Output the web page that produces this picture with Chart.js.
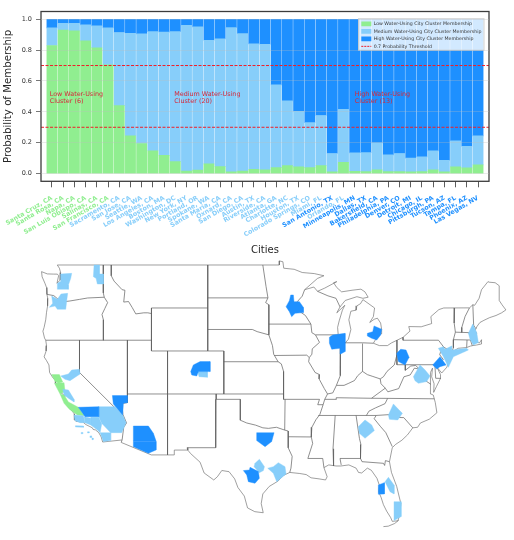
<!DOCTYPE html>
<html>
<head>
<meta charset="utf-8">
<title>Cities</title>
<script src="https://cdn.jsdelivr.net/npm/chart.js@4/dist/chart.umd.min.js"></script>
<style>
html,body{margin:0;padding:0;background:#fff}
#barBox{position:absolute;left:0;top:0;width:514px;height:258px}
#mapBox{position:absolute;left:20px;top:258px;width:494px;height:280px}
canvas{filter:blur(.3px)}
</style>
</head>
<body>
<div id="barBox"><canvas id="barChart"></canvas></div>
<div id="mapBox"><canvas id="mapChart"></canvas></div>
<script>
const LOW_COLOR="#90EE90"
const MEDIUM_COLOR="#87CEFA"
const HIGH_COLOR="#1E90FF"

const cities=["Santa Cruz, CA","Santa Rosa, CA","Napa, CA","San Luis Obispo, CA","Salinas, CA","San Francisco, CA","Sacramento, CA","San Jose, CA","Seattle, WA","Los Angeles, CA","Boston, MA","Washington, DC","New York, NY","Portland, OR","Spokane, WA","Santa Maria, CA","Oxnard, CA","San Diego, CA","Austin, TX","Riverside, CA","Atlanta, GA","Charlotte, NC","Houston, TX","Colorado Springs, CO","Miami, FL","San Antonio, TX","Orlando, FL","Minneapolis, MN","Dallas, TX","Bakersfield, CA","Philadelphia, PA","Denver, CO","Detroit, MI","Chicago, IL","Pittsburgh, PA","Tucson, AZ","Tampa, FL","Phoenix, AZ","Las Vegas, NV"]
const clusters=["low","low","low","low","low","low","medium","medium","medium","medium","medium","medium","medium","medium","medium","medium","medium","medium","medium","medium","medium","medium","medium","medium","medium","high","medium","high","high","high","high","high","high","high","high","high","high","high","high"]
const lowValues=[.83,.93,.925,.86,.815,.705,.44,.245,.195,.148,.118,.077,.016,.022,.063,.045,.012,.017,.028,.024,.039,.052,.043,.039,.052,.011,.073,.015,.013,.024,.013,.013,.011,.013,.024,.011,.043,.037,.056]
const mediumValues=[.114,.044,.049,.103,.142,.239,.474,.664,.71,.772,.798,.843,.945,.928,.801,.828,.934,.89,.812,.814,.536,.419,.361,.291,.324,.119,.344,.119,.123,.175,.108,.117,.089,.095,.123,.075,.169,.14,.188]
const highValues=[.056,.026,.026,.037,.043,.056,.086,.091,.095,.08,.084,.08,.039,.05,.136,.127,.054,.093,.16,.162,.425,.529,.596,.67,.624,.87,.583,.866,.864,.801,.879,.87,.9,.892,.853,.914,.788,.823,.756]
const thresholds=[.7,.3]
const clusterNotes=[
{x:-.2,y:.5,lines:["Low Water-Using","Cluster (6)"]},
{x:10.9,y:.5,lines:["Medium Water-Using","Cluster (20)"]},
{x:27,y:.5,lines:["High Water-Using","Cluster (13)"]}
]

// lon,lat rings
const lowAreas=[
[[-123.46,38.8],[-122.5,38.8],[-122.09,38.12],[-122.63,37.99],[-123.04,38.15]],
[[-123.12,37.99],[-121.92,38.05],[-121.8,37.22],[-122.42,37]],
[[-122.42,37],[-121.92,36.91],[-121.38,36.26],[-120.14,35.76],[-119.43,34.98],[-120.26,35.05],[-121.26,35.57],[-121.92,36.13]]
]
const mediumAreas=[
[[-122.75,46.74],[-122.75,47.29],[-122.42,47.45],[-122.34,48.16],[-120.97,48.22],[-121.09,47.76],[-121.38,47.14],[-121.38,46.74]],
[[-118.19,49],[-117.53,49],[-117.53,48.16],[-117.03,48.16],[-117.03,47.23],[-117.78,47.23],[-117.94,47.76],[-118.27,47.91]],
[[-123.75,45.06],[-123.33,45.43],[-123.46,46.12],[-122.75,45.81],[-122.3,46.3],[-121.47,46.36],[-121.59,45.68],[-121.71,44.88],[-122.75,44.88],[-123.04,45.19]],
[[-122.34,38.67],[-121.38,38.86],[-120.97,39.23],[-120.01,39.29],[-119.93,38.86],[-121.18,38.24],[-121.8,38.36]],
[[-122.09,37.43],[-121.38,37.37],[-120.68,36.5],[-120.68,36.26],[-121.38,36.6],[-121.92,36.91]],
[[-117.61,35.82],[-115.58,35.82],[-114.63,35.05],[-114.21,34.33],[-114.75,33.4],[-116.12,33.4],[-117.24,34.27],[-117.61,34.89]],
[[-120.68,35.05],[-119.52,34.98],[-119.31,34.33],[-119.93,34.33],[-120.55,34.52]],
[[-119.43,34.89],[-118.6,34.74],[-118.6,34.12],[-119.31,34.33]],
[[-118.6,34.83],[-117.61,34.83],[-117.24,34.21],[-117.44,33.4],[-117.78,33.65],[-118.6,34.12]],
[[-117.44,33.4],[-116.12,33.4],[-116.12,32.66],[-117.03,32.57]],
[[-120.5,34.05],[-119.5,34.02],[-119.5,33.9],[-120.5,33.93]],
[[-119.8,33.42],[-119.6,33.42],[-119.6,33.3],[-119.8,33.3]],
[[-119,33.48],[-118.8,33.48],[-118.8,33.38],[-119,33.38]],
[[-118.7,33.1],[-118.5,33.1],[-118.5,32.95],[-118.7,32.95]],
[[-118.45,32.9],[-118.3,32.9],[-118.3,32.75],[-118.45,32.75]],
[[-105.3,39.11],[-104.09,39.11],[-104.09,38.55],[-105.13,38.61]],
[[-98.17,30.55],[-97.63,30.92],[-97,30.24],[-97.13,29.87],[-97.63,29.68],[-98.29,30.24]],
[[-96.59,30.09],[-95.89,30.24],[-95.27,30.61],[-94.44,30.24],[-94.31,29.56],[-95.47,28.84],[-95.89,29.62]],
[[-85.32,33.96],[-84.49,34.58],[-83.66,34.12],[-83.33,33.59],[-84.49,32.88],[-85.19,33.34]],
[[-81.58,35.05],[-80.96,36.07],[-80.34,35.57],[-79.84,35.2],[-80.42,34.58],[-81.46,34.64]],
[[-82,28.84],[-81.58,29.25],[-80.88,28.53],[-80.88,27.7],[-81.38,27.91]],
[[-80.88,26.98],[-80,26.98],[-80,25.59],[-80.88,25.22]],
[[-78.47,38.61],[-77.65,39.7],[-77.02,39.23],[-76.4,38.67],[-76.82,38.15],[-77.85,37.99],[-78.27,38.24]],
[[-75.37,41.25],[-74.74,41.4],[-74.54,41.16],[-73.71,41.47],[-73.71,41.09],[-71.84,41.25],[-71.63,41.09],[-73.5,40.47],[-74.12,39.48],[-74.74,40.47]],
[[-71.63,42.64],[-71.09,43.51],[-70.6,42.71],[-70.39,41.78],[-71.01,41.56],[-71.43,42.09]]
]
const highAreas=[
[[-120.14,35.76],[-117.61,35.82],[-117.61,34.89],[-119.31,34.89]],
[[-115.91,36.85],[-114.05,36.85],[-114.05,36.19],[-114.54,36.13],[-114.63,35.05],[-115.79,36.07]],
[[-106.17,39.08],[-105.84,39.7],[-105,40.01],[-103.76,40.01],[-103.76,39.08],[-105.21,39.08],[-105.42,38.67],[-106.04,38.77]],
[[-113.3,34.02],[-111.43,34.02],[-110.81,33.34],[-110.48,32.62],[-113.3,32.62]],
[[-113.3,32.6],[-110.48,32.6],[-110.48,31.79],[-111.43,31.48],[-113.3,32.1]],
[[-99.62,29.87],[-98.87,29.93],[-98.79,30.18],[-97.75,29.78],[-97.63,29.16],[-98.17,28.69],[-99,28.84],[-99.2,29.47]],
[[-97.96,33.4],[-95.8,33.4],[-96.1,32.57],[-96.92,32.1],[-97.96,32.66]],
[[-82.83,28.53],[-82.08,28.75],[-82.08,27.7],[-82.83,27.67]],
[[-93.73,46.21],[-93.4,46.21],[-93.32,45.59],[-92.65,45.59],[-92.16,45.06],[-92.16,44.57],[-93.19,44.5],[-93.61,44.19],[-93.9,44.66],[-94.31,45.12],[-93.9,45.68]],
[[-88.92,42.27],[-88.51,42.49],[-86.97,42.64],[-86.97,40.94],[-87.51,40.72],[-87.6,41.25],[-88.63,41.16],[-88.92,41.71]],
[[-84.2,42.64],[-83.53,42.8],[-83.37,43.33],[-82.41,43.02],[-82.54,42.49],[-83.03,42.02],[-83.66,42.18],[-84.2,42.4]],
[[-80.55,40.78],[-80.05,41.16],[-79.39,41.09],[-79.01,40.41],[-79.51,39.7],[-80.34,40.01]],
[[-76.07,39.7],[-75.16,40.47],[-74.41,39.7],[-75.16,39.54],[-75.57,39.33]]
]

const coastLines=[
[[-122.76,49],[-122.5,48.7],[-122.35,48.3],[-122.4,47.6],[-122.8,47.3],[-122.6,48],[-122.75,48.15],[-123.2,48.15],[-124,48.17],[-124.72,48.38],[-124.65,47.9],[-124.3,47.3],[-124.1,46.9],[-124.05,46.27],[-123.95,45.9],[-123.97,45.2],[-124.1,44.6],[-124.2,43.9],[-124.4,43.2],[-124.55,42.84],[-124.35,42.2],[-124.2,42],[-124.1,41.5],[-124.15,41],[-124.4,40.45],[-124.1,40.1],[-123.8,39.7],[-123.72,39],[-123.3,38.5],[-122.95,38.25],[-123,38],[-122.6,37.85],[-122.5,37.5],[-122.4,37.15],[-122,36.95],[-121.8,36.8],[-121.95,36.55],[-121.85,36.3],[-121.3,35.7],[-120.85,35.35],[-120.65,35.15],[-120.63,34.6],[-120.45,34.45],[-119.6,34.4],[-119.2,34.15],[-118.8,34],[-118.4,33.85],[-118.3,33.7],[-118,33.65],[-117.6,33.4],[-117.3,33],[-117.12,32.53],[-114.72,32.72]],
[[-114.81,32.49],[-111.07,31.33],[-108.21,31.33],[-108.21,31.78],[-106.53,31.78],[-106.2,31.47],[-105,30.65],[-104.5,29.65],[-103.3,29],[-102.85,29.3],[-102.3,29.88],[-101.4,29.77],[-100.7,29.1],[-100.3,28.3],[-99.5,27.5],[-99.1,26.4],[-98.2,26.05],[-97.15,25.95],[-97.4,26.8],[-97.2,27.7],[-96.4,28.4],[-95.3,28.9],[-94.7,29.4],[-93.85,29.7],[-92.6,29.6],[-91.8,29.5],[-91.2,29.2],[-90.2,29.1],[-89.4,29],[-89.2,29.3],[-89.6,30.15],[-89,30.4],[-88.1,30.3],[-87.5,30.3],[-86.5,30.4],[-85.6,30.1],[-85.3,29.7],[-84.9,29.65],[-84.2,30.1],[-83.7,29.9],[-83,29.15],[-82.7,28.5],[-82.8,27.9],[-82.5,27.4],[-82.2,26.7],[-81.8,26.1],[-81.3,25.5],[-81.1,25.15],[-80.4,25.2],[-80.15,25.8],[-80.03,26.8],[-80.55,28.4],[-81.2,29.7],[-81.45,30.7],[-81.1,32],[-80.7,32.3],[-79.9,32.7],[-79.2,33.2],[-78.55,33.85],[-77.95,33.9],[-77.6,34.3],[-76.5,34.65],[-75.55,35.25],[-75.75,36.2],[-76,36.9],[-76.3,37],[-76.3,37.9],[-76.4,39],[-76.1,39.4],[-76.2,38.6],[-75.9,37.95],[-75.95,37.15],[-75.6,37.7],[-75.1,38.45],[-75.1,38.8],[-75.55,39.5],[-74.95,38.95],[-74.3,39.5],[-74,40.45],[-74.2,40.6],[-74,40.7],[-72,41.05],[-73.7,40.9],[-72.9,41.25],[-71.85,41.32],[-71.4,41.45],[-71.1,41.5],[-70.65,41.55],[-70,41.65],[-70,42.05],[-70.25,41.75],[-70.55,41.8],[-70.7,42.2],[-70.95,42.4],[-70.6,42.65],[-70.8,42.9],[-70.55,43.3],[-70.2,43.65],[-69.7,43.85],[-69,44.1],[-68.2,44.3],[-67.5,44.55],[-66.97,44.82],[-67.45,45.3],[-67.8,45.7],[-67.8,47.07],[-68.3,47.35],[-69.05,47.4],[-69.2,47.45],[-70,46.7],[-70.3,45.9],[-70.85,45.25],[-71.08,45.3],[-71.5,45.01],[-74.7,45],[-75.3,44.85],[-76.3,44.2],[-76.2,43.55],[-77.5,43.25],[-79.05,43.27],[-78.9,42.85],[-79.76,42.27],[-81.2,41.75],[-81.7,41.5],[-82.7,41.5],[-83.45,41.72],[-83.15,42.1],[-82.5,42.6],[-82.42,43],[-82.55,43.6],[-82.95,44.05],[-83.35,43.95],[-83.9,43.65],[-83.45,44.2],[-83.3,45],[-84.75,45.78],[-85.05,45.4],[-85.5,45.2],[-85.6,44.8],[-86.25,44.7],[-86.5,43.9],[-86.25,43],[-86.55,42.1],[-87,41.7],[-87.5,41.65],[-87.8,42.3],[-87.9,43.2],[-87.7,43.8],[-87.3,44.8],[-87,45.25],[-88,44.55],[-87.6,45.1],[-86.95,45.7],[-85.5,46.05],[-84.75,45.9],[-84.1,46],[-84.5,46.5],[-85,46.75],[-86.1,46.65],[-87.4,46.5],[-88,46.9],[-88.4,47.35],[-88,47.45],[-89.5,46.85],[-90.4,46.55],[-90.85,46.95],[-92,46.7],[-90.4,47.75],[-89.6,48],[-90.8,48.2],[-92.3,48.3],[-93.3,48.6],[-94.6,48.7],[-94.7,49.3],[-95.15,49.38],[-95.15,49],[-122.76,49]],
[[-82.2,24.66],[-81.6,24.7],[-80.8,24.95],[-80.3,25.25]]
]
const stateLines=[
[[-124.05,46.27],[-123.2,46.15],[-122.8,45.9],[-122.3,45.55],[-121.2,45.65],[-120,45.8],[-119,45.93],[-116.92,46]],
[[-117.04,49],[-117.04,46.4],[-116.92,46],[-116.5,45.5],[-116.85,44.95],[-117.2,44.4],[-117.03,43.9],[-117.03,42]],
[[-124.2,42],[-111.05,42]],
[[-111.05,45],[-111.05,41],[-102.05,41]],
[[-116.05,49],[-116.05,48],[-115.7,47.5],[-114.7,46.7],[-114.35,46.65],[-114.5,45.55],[-113.9,45.6],[-113.45,45.05],[-113,44.45],[-112,44.55],[-111.5,44.55],[-111.05,44.48]],
[[-111.05,45],[-104.05,45]],
[[-104.05,49],[-104.05,41]],
[[-102.05,41],[-102.05,37]],
[[-102.05,40],[-95.3,40]],
[[-109.05,41],[-109.05,31.33]],
[[-114.04,42],[-114.04,36.2],[-114.75,36.1],[-114.6,35.1],[-114.15,34.3],[-114.5,33.9],[-114.7,32.73],[-114.81,32.49]],
[[-120,42],[-120,39],[-114.63,35]],
[[-114.04,37],[-94.62,37]],
[[-103,37],[-103,36.5],[-100,36.5],[-100,34.56],[-99.2,34.3],[-98.1,34.1],[-97.2,33.85],[-96.5,33.8],[-95.5,33.9],[-94.48,33.64],[-94.04,33.55],[-94.04,31.99],[-93.55,31.2],[-93.7,30.1],[-93.85,29.7]],
[[-103.04,36.5],[-103.06,32],[-106.62,32],[-106.53,31.78]],
[[-94.43,36.5],[-94.48,33.64]],
[[-94.04,33.02],[-91.17,33]],
[[-94.62,39.1],[-94.62,36.5],[-90.15,36.5],[-90.37,36],[-89.7,36]],
[[-104.05,45.94],[-96.56,45.94]],
[[-104.05,43],[-98.5,43],[-97.9,42.8],[-96.45,42.5]],
[[-97.2,49],[-96.8,47],[-96.56,45.94],[-96.85,45.5],[-96.45,45.3],[-96.45,42.5],[-96,41.5],[-95.85,40.7],[-95.3,40],[-94.9,39.8],[-94.62,39.1]],
[[-96.45,43.5],[-91.22,43.5]],
[[-95.77,40.58],[-91.73,40.61],[-91.42,40.38]],
[[-92,46.7],[-92.3,46.1],[-92.9,45.6],[-92.75,44.75],[-91.9,44.3],[-91.22,43.5],[-91.1,42.7],[-90.65,42.5],[-90.15,41.8],[-91.05,41.2],[-91.1,40.7],[-91.42,40.38],[-91.5,40],[-90.7,39],[-90.15,38.8],[-90.2,38.4],[-89.55,37.5],[-89.15,37],[-89.5,36.5],[-89.7,36],[-90.1,35.1],[-90.6,34.6],[-91.1,33.9],[-91.17,33],[-91,32.4],[-91.6,31],[-89.75,31],[-89.6,30.15]],
[[-90.65,42.5],[-87.8,42.5]],
[[-87.53,41.7],[-87.53,39.35],[-87.6,38.7],[-88.05,37.8]],
[[-89.15,37],[-88.5,37.1],[-88.05,37.8],[-87.1,37.8],[-86.5,38],[-85.8,38.25],[-85.4,38.7],[-84.8,39.1],[-84.2,38.8],[-83.6,38.65],[-82.6,38.4],[-82.2,38.6],[-81.75,39.1],[-80.85,39.7],[-80.52,40.64]],
[[-84.82,39.1],[-84.8,41.7]],
[[-87,41.76],[-84.8,41.76],[-83.45,41.72]],
[[-80.52,42],[-80.52,39.72],[-75.8,39.72]],
[[-79.76,42.27],[-79.76,42],[-75.35,42],[-74.7,41.36],[-75.1,40.9],[-75.2,40.65],[-74.75,40.2],[-75.4,39.8],[-75.55,39.5]],
[[-74.7,41.36],[-73.9,41]],
[[-79.48,39.72],[-79.48,39.2],[-78.8,39.6],[-78.2,39.65],[-77.72,39.32],[-77.05,38.85],[-77.3,38.4],[-76.3,37.9]],
[[-77.72,39.32],[-78.35,39.4],[-78.87,38.77],[-79.65,38.6],[-80.3,37.5],[-81.65,37.2],[-81.97,37.54],[-82.5,37.95],[-82.6,38.4]],
[[-81.97,37.54],[-83.68,36.6]],
[[-75.8,39.72],[-75.7,38.46],[-75.05,38.45]],
[[-75.4,39.8],[-75.8,39.72]],
[[-89.5,36.5],[-88.05,36.5],[-88.07,36.65],[-83.68,36.6],[-81.68,36.59],[-75.87,36.55]],
[[-90.3,35],[-83.1,35],[-81.05,35.1],[-80.8,34.82],[-79.67,34.8],[-78.55,33.85]],
[[-81.68,36.59],[-82,36.1],[-83.2,35.7],[-84,35.4],[-84.32,35]],
[[-88.2,35],[-88.47,31.9],[-88.4,30.3]],
[[-85.6,35],[-85.18,32.85],[-85,32.3],[-85.05,31],[-84.86,30.7],[-82.2,30.55],[-82.05,30.35],[-81.95,30.8],[-81.45,30.7]],
[[-87.45,30.4],[-87.6,31],[-85,31]],
[[-83.1,35],[-83.35,34.7],[-82.6,34],[-81.9,33.4],[-81.1,32.1]],
[[-73.35,45],[-73.4,43.6],[-73.25,42.75],[-73.5,42.05],[-73.5,41.3],[-73.65,41]],
[[-71.5,45.01],[-72.05,44.2],[-72.45,43.2],[-72.46,42.73]],
[[-73.25,42.75],[-71.3,42.7],[-70.85,42.87]],
[[-73.5,42.05],[-71.38,42.02],[-71.15,41.5]],
[[-71.8,42.02],[-71.85,41.32]],
[[-71.08,45.3],[-70.98,43.4],[-70.7,43.07]],
[[-90.4,46.55],[-89.1,46.13],[-88.1,45.9],[-87.6,45.1]]
]

const labelColor={low:LOW_COLOR,medium:MEDIUM_COLOR,high:HIGH_COLOR}
const xLeft=-.98
const xRight=38.98
const LEGEND_WIDTH=125.5
const LEGEND_HEIGHT=31.5

function barData(values){
return values.map((v,i)=>({x:i,y:v}))
}

function barSeries(label,values,color){
return {
type:"bar",
label:label,
data:barData(values),
backgroundColor:color,
barThickness:10.2,
stack:"c",
order:2
}
}

function thresholdLine(value,label){
return {
type:"line",
label:label,
data:[{x:xLeft,y:value},{x:xRight,y:value}],
stack:"line"+value,
borderColor:"rgb(240,30,40)",
borderWidth:1,
borderDash:[3,1.5],
pointRadius:0,
order:0
}
}

const framePlugin={
id:"frame",
beforeLayout(chart){
const l=chart.legend
l._layers=()=>[{z:5,draw(area){l.draw(area)}}]
},
afterLayout(chart){
const l=chart.legend
const a=chart.chartArea
l.left=a.right-LEGEND_WIDTH-5
l.right=l.left+l.width
l.top=a.top+7.2
},
afterDatasetsDraw(chart){
const ctx=chart.ctx
const a=chart.chartArea
const x=chart.scales.x
const y=chart.scales.y

ctx.save()
ctx.fillStyle="#d62839"
ctx.font="6.4px 'DejaVu Sans'"
ctx.textBaseline="middle"
clusterNotes.forEach(n=>{
n.lines.forEach((t,i)=>{
ctx.fillText(t,x.getPixelForValue(n.x),y.getPixelForValue(n.y)+(i-.5)*7.4+1.5)
})
})

const l=chart.legend
ctx.fillStyle="rgba(255,255,255,.8)"
ctx.strokeStyle="rgba(204,204,204,.9)"
ctx.lineWidth=1
ctx.fillRect(l.left,l.top,LEGEND_WIDTH,LEGEND_HEIGHT)
ctx.strokeRect(l.left,l.top,LEGEND_WIDTH,LEGEND_HEIGHT)

ctx.strokeStyle="#3c3c3c"
ctx.lineWidth=1.3
ctx.strokeRect(a.left,a.top,a.width,a.height)
ctx.restore()
}
}

new Chart(document.getElementById("barChart"),{
data:{
datasets:[
barSeries("Low Water-Using City Cluster Membership",lowValues,LOW_COLOR),
barSeries("Medium Water-Using City Cluster Membership",mediumValues,MEDIUM_COLOR),
barSeries("High Water-Using City Cluster Membership",highValues,HIGH_COLOR),
thresholdLine(thresholds[0],"0.7 Probability Threshold"),
thresholdLine(thresholds[1],"0.3 Probability Threshold")
]
},
plugins:[framePlugin],
options:{
responsive:true,
maintainAspectRatio:false,
animation:false,
layout:{padding:{top:11.5,right:25,left:0,bottom:0}},
scales:{
x:{
type:"linear",
offset:false,
stacked:true,
min:xLeft,
max:xRight,
afterBuildTicks(scale){scale.ticks=cities.map((c,i)=>({value:i}))},
afterFit(scale){
scale.height=76.7
scale.paddingLeft=0
scale.paddingRight=0
},
grid:{offset:false,drawOnChartArea:false,color:"#333",tickLength:6,tickWidth:.8},
border:{display:false},
ticks:{
autoSkip:false,
minRotation:30,
maxRotation:30,
padding:7,
font:{family:"DejaVu Sans",size:6.3,weight:"bold"},
color:ctx=>labelColor[clusters[ctx.index]],
callback:v=>cities[v]
},
title:{display:true,text:"Cities",color:"#262626",font:{family:"DejaVu Sans",size:10},padding:{top:0,bottom:2}}
},
y:{
stacked:true,
min:-.05,
max:1.05,
afterBuildTicks(scale){scale.ticks=[0,.2,.4,.6,.8,1].map(v=>({value:v}))},
afterFit(scale){scale.width=41},
grid:{z:1,color:"rgba(190,190,190,.3)",tickColor:"#555",tickLength:5,tickWidth:.8},
border:{display:false},
ticks:{
font:{family:"DejaVu Sans",size:6.5},
color:"#333",
padding:4,
callback:v=>v.toFixed(1)
},
title:{display:true,text:"Probability of Membership",color:"#262626",font:{family:"DejaVu Sans",size:10.2},padding:{top:2.5,bottom:0}}
}
},
plugins:{
tooltip:{enabled:false},
legend:{
position:"chartArea",
align:"start",
labels:{
usePointStyle:true,
pointStyleWidth:10,
boxHeight:4.6,
padding:2.8,
color:"#333",
font:{family:"DejaVu Sans",size:4.7},
sort:(a,b)=>a.datasetIndex-b.datasetIndex,
generateLabels(chart){
return Chart.defaults.plugins.legend.labels.generateLabels(chart)
.filter(item=>item.datasetIndex<4)
.map(item=>{
item.pointStyle=item.datasetIndex===3?"line":"rect"
if(item.datasetIndex===3) item.lineDash=[2,1]
return item
})
}
}
}
}
}
})

function areaDatasets(rings,color){
return rings.map(ring=>({
data:ring.concat([ring[0]]).map(p=>({x:p[0],y:p[1]})),
borderColor:color,
backgroundColor:color,
borderWidth:.4,
pointRadius:0,
tension:0,
fill:"shape"
}))
}

function lineDatasets(lines,width){
return lines.map(line=>({
data:line.map(p=>({x:p[0],y:p[1]})),
borderColor:"#5f5f5f",
borderWidth:width,
pointRadius:0,
tension:0,
fill:false
}))
}

new Chart(document.getElementById("mapChart"),{
type:"line",
data:{
datasets:[
...areaDatasets(highAreas,HIGH_COLOR),
...areaDatasets(mediumAreas,MEDIUM_COLOR),
...areaDatasets(lowAreas,LOW_COLOR),
...lineDatasets(stateLines,.7),
...lineDatasets(coastLines,.6)
]
},
options:{
responsive:true,
maintainAspectRatio:false,
animation:false,
layout:{padding:0},
plugins:{legend:{display:false},tooltip:{enabled:false}},
scales:{
x:{type:"linear",display:false,min:-127.4,max:-65.96},
y:{type:"linear",display:false,min:23.6,max:49.65}
}
}
})
</script>
</body>
</html>
